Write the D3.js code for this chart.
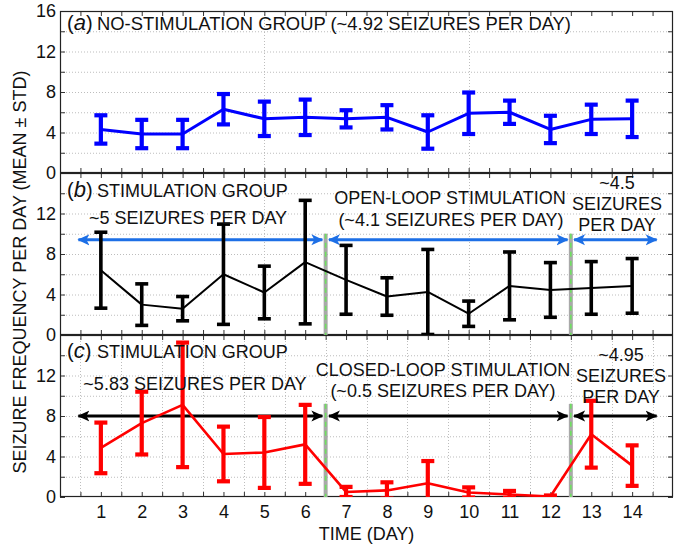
<!DOCTYPE html>
<html>
<head>
<meta charset="utf-8">
<script src="https://cdn.jsdelivr.net/npm/d3@7"></script>
<style>
  html, body { margin: 0; padding: 0; background: #fff; }
  svg { display: block; }
  text { font-family: "Liberation Sans", Arial, Helvetica, sans-serif; fill: #111; }
</style>
</head>
<body>
<svg id="chart" width="683" height="544"></svg>
<script>
// ---- data -------------------------------------------------------------
const days = [1, 2, 3, 4, 5, 6, 7, 8, 9, 10, 11, 12, 13, 14];

// (a) no-stimulation group
const noStimMean = [4.3, 3.85, 3.85, 6.3, 5.35, 5.5, 5.35, 5.5, 4.05, 5.9, 6.0, 4.3, 5.3, 5.35];
const noStimStd  = [1.4, 1.4, 1.4, 1.5, 1.7, 1.75, 0.85, 1.2, 1.65, 2.05, 1.15, 1.35, 1.45, 1.8];

// (b) stimulation group, open-loop
const openMean = [6.4, 3.0, 2.6, 6.0, 4.2, 7.2, 5.45, 3.8, 4.25, 2.1, 4.85, 4.45, 4.65, 4.85];
const openStd  = [3.75, 2.05, 1.2, 4.95, 2.6, 6.1, 3.4, 1.85, 4.2, 1.25, 3.35, 2.7, 2.6, 2.7];

// (c) stimulation group, closed-loop
const closedMean = [4.85, 7.3, 9.1, 4.25, 4.4, 5.2, 0.5, 0.65, 1.35, 0.45, 0.25, 0.05, 6.2, 3.1];
const closedStd  = [2.5, 3.1, 6.15, 2.7, 3.5, 3.9, 0.5, 0.8, 2.2, 0.5, 0.35, 0.1, 3.3, 2.0];

// phase boundaries (between days) and phase spans
const phaseSplits = [6.5, 12.5];
const phaseSpans  = [[0.45, 6.42], [6.58, 12.42], [12.58, 14.6]];

// axis ticks
const yMinor = [0, 2, 4, 6, 8, 10, 12, 14, 16];
const xTickLabels = days;

// ---- layout -----------------------------------------------------------
const svg = d3.select("#chart");
const left = 60, right = 673;
const panelH = 162;
const panelTops = [11, 173, 335];

const x = d3.scaleLinear().domain([0, 15]).range([left, right]);
const halfDays = d3.range(0.5, 15, 0.5);

const panels = [
  { id: "a", mean: noStimMean, std: noStimStd, color: "#0000ff", lw: 3, ew: 4.2, cap: 13,
    vgrid: [5, 10], yLabels: [0, 4, 8, 12, 16] },
  { id: "b", mean: openMean, std: openStd, color: "#000000", lw: 2, ew: 3.6, cap: 13,
    vgrid: [5, 10], yLabels: [0, 4, 8, 12],
    arrowY: 9.4, arrowColor: "#1d6fe6", splitTop: 10 },
  { id: "c", mean: closedMean, std: closedStd, color: "#ff0000", lw: 2.6, ew: 4.2, cap: 13,
    vgrid: d3.range(0.5, 15, 1), yLabels: [0, 4, 8, 12],
    arrowY: 8.0, arrowColor: "#000000", splitTop: 9.2 }
];

const defs = svg.append("defs");
["#1d6fe6", "#000000"].forEach((c, i) => {
  defs.append("marker")
    .attr("id", "arrow" + i)
    .attr("viewBox", "0 -6 12 12")
    .attr("refX", 11).attr("refY", 0)
    .attr("markerUnits", "userSpaceOnUse")
    .attr("markerWidth", 12).attr("markerHeight", 12)
    .attr("orient", "auto-start-reverse")
    .append("path")
    .attr("d", "M0,-5.5 L12,0 L0,5.5 L3,0 Z")
    .attr("fill", c);
});

panels.forEach((p, pi) => {
  const top = panelTops[pi];
  const y = d3.scaleLinear().domain([0, 16]).range([top + panelH, top]);
  const g = svg.append("g");

  defs.append("clipPath").attr("id", "clip" + p.id)
    .append("rect").attr("x", left).attr("y", top)
    .attr("width", right - left).attr("height", panelH);

  // grid
  const grid = g.append("g").attr("stroke", "#bdbdbd").attr("stroke-width", 1)
    .attr("stroke-dasharray", "1,2");
  grid.selectAll(".hg").data([2, 4, 6, 8, 10, 12, 14]).join("line")
    .attr("x1", left).attr("x2", right)
    .attr("y1", d => y(d) + 0.5).attr("y2", d => y(d) + 0.5);
  grid.selectAll(".vg").data(p.vgrid).join("line")
    .attr("y1", top).attr("y2", top + panelH)
    .attr("x1", d => Math.round(x(d)) + 0.5).attr("x2", d => Math.round(x(d)) + 0.5);

  // ticks (inward on all four sides)
  const tickStyle = sel => {
    sel.select(".domain").remove();
    sel.selectAll(".tick line").attr("stroke", "#333");
    sel.selectAll(".tick text").remove();
  };
  g.append("g").attr("transform", `translate(0,${top + panelH})`)
    .call(d3.axisBottom(x).tickValues(halfDays).tickSize(-5)).call(tickStyle);
  g.append("g").attr("transform", `translate(0,${top})`)
    .call(d3.axisTop(x).tickValues(halfDays).tickSize(-5)).call(tickStyle);
  g.append("g").attr("transform", `translate(${left},0)`)
    .call(d3.axisLeft(y).tickValues(yMinor).tickSize(-5)).call(tickStyle);
  g.append("g").attr("transform", `translate(${right},0)`)
    .call(d3.axisRight(y).tickValues(yMinor).tickSize(-5)).call(tickStyle);

  // y labels
  const yl = g.append("g").attr("transform", `translate(${left},0)`)
    .call(d3.axisLeft(y).tickValues(p.yLabels).tickSize(0).tickPadding(4));
  yl.select(".domain").remove();
  yl.selectAll(".tick text").attr("font-size", 18)
    .attr("font-family", "Liberation Sans, Arial, sans-serif").attr("fill", "#111");

  // frame
  g.append("rect").attr("x", left + 0.5).attr("y", top + 0.5)
    .attr("width", right - left - 1).attr("height", panelH - 1)
    .attr("fill", "none").attr("stroke", "#222").attr("stroke-width", 1.2);

  // phase separators and arrows
  if (p.arrowY !== undefined) {
    phaseSplits.forEach(s => {
      g.append("line").attr("x1", x(s)).attr("x2", x(s))
        .attr("y1", y(p.splitTop)).attr("y2", y(0))
        .attr("stroke", "#a9a9a9").attr("stroke-width", 4);
      g.append("line").attr("x1", x(s)).attr("x2", x(s))
        .attr("y1", y(p.splitTop)).attr("y2", y(0))
        .attr("stroke", "#6fe060").attr("stroke-width", 1.6)
        .attr("stroke-dasharray", "5,4");
    });
    const mi = p.arrowColor === "#000000" ? 1 : 0;
    g.selectAll(".arr").data(phaseSpans).join("line")
      .attr("x1", d => x(d[0])).attr("x2", d => x(d[1]))
      .attr("y1", y(p.arrowY)).attr("y2", y(p.arrowY))
      .attr("stroke", p.arrowColor).attr("stroke-width", 3)
      .attr("marker-start", `url(#arrow${mi})`)
      .attr("marker-end", `url(#arrow${mi})`);
  }

  // data: mean line and error bars
  const data = days.map((d, i) => ({ day: d, m: p.mean[i], s: p.std[i] }));
  const plot = g.append("g").attr("clip-path", `url(#clip${p.id})`);
  plot.append("path").datum(data)
    .attr("d", d3.line().x(d => x(d.day)).y(d => y(d.m)))
    .attr("fill", "none").attr("stroke", p.color).attr("stroke-width", p.lw)
    .attr("stroke-linejoin", "round");
  const eb = plot.selectAll(".eb").data(data).join("g")
    .attr("stroke", p.color).attr("stroke-width", p.ew).attr("fill", "none");
  eb.append("line")
    .attr("x1", d => x(d.day)).attr("x2", d => x(d.day))
    .attr("y1", d => y(d.m - d.s)).attr("y2", d => y(d.m + d.s));
  eb.append("line")
    .attr("x1", d => x(d.day) - p.cap / 2).attr("x2", d => x(d.day) + p.cap / 2)
    .attr("y1", d => y(d.m + d.s)).attr("y2", d => y(d.m + d.s));
  eb.append("line")
    .attr("x1", d => x(d.day) - p.cap / 2).attr("x2", d => x(d.day) + p.cap / 2)
    .attr("y1", d => y(d.m - d.s)).attr("y2", d => y(d.m - d.s));
});

// x tick labels (bottom panel)
const xl = svg.append("g").attr("transform", `translate(0,${panelTops[2] + panelH})`)
  .call(d3.axisBottom(x).tickValues(xTickLabels).tickSize(0).tickPadding(8));
xl.select(".domain").remove();
xl.selectAll(".tick text").attr("font-size", 18)
  .attr("font-family", "Liberation Sans, Arial, sans-serif").attr("fill", "#111");

// ---- text -------------------------------------------------------------
const txt = (s, xx, yy, anchor = "start") =>
  svg.append("text").attr("x", xx).attr("y", yy).attr("font-size", 18)
    .attr("text-anchor", anchor).text(s);

// italic serif panel letter, e.g. "(a)"
const panelTag = (letter, xx, yy) => {
  const t = svg.append("text").attr("x", xx).attr("y", yy)
    .attr("font-family", "Liberation Serif, Times New Roman, serif").attr("font-size", 20);
  t.append("tspan").text("(");
  t.append("tspan").attr("font-style", "italic").attr("font-size", 22).text(letter);
  t.append("tspan").text(")");
};

panelTag("a", 67, 30);
txt("NO-STIMULATION GROUP (~4.92 SEIZURES PER DAY)", 97, 30)
  .attr("textLength", 474).attr("lengthAdjust", "spacingAndGlyphs");

panelTag("b", 67, 197);
txt("STIMULATION GROUP", 97, 197);
txt("~5 SEIZURES PER DAY", 188, 224, "middle");
txt("OPEN-LOOP STIMULATION", 450, 204, "middle");
txt("(~4.1 SEIZURES PER DAY)", 451, 226, "middle");
txt("~4.5", 617, 189, "middle");
txt("SEIZURES", 617, 210, "middle");
txt("PER DAY", 617, 231, "middle");

panelTag("c", 67, 358);
txt("STIMULATION GROUP", 97, 358);
txt("~5.83 SEIZURES PER DAY", 195, 390, "middle");
txt("CLOSED-LOOP STIMULATION", 443, 376, "middle");
txt("(~0.5 SEIZURES PER DAY)", 443, 397, "middle");
txt("~4.95", 621, 361, "middle");
txt("SEIZURES", 621, 382, "middle");
txt("PER DAY", 621, 403, "middle");

// axis titles
txt("TIME (DAY)", (left + right) / 2, 540, "middle");
svg.append("text")
  .attr("transform", "translate(26,272) rotate(-90)")
  .attr("text-anchor", "middle").attr("font-size", 18)
  .text("SEIZURE FREQUENCY PER DAY (MEAN \u00B1 STD)");
</script>
</body>
</html>
